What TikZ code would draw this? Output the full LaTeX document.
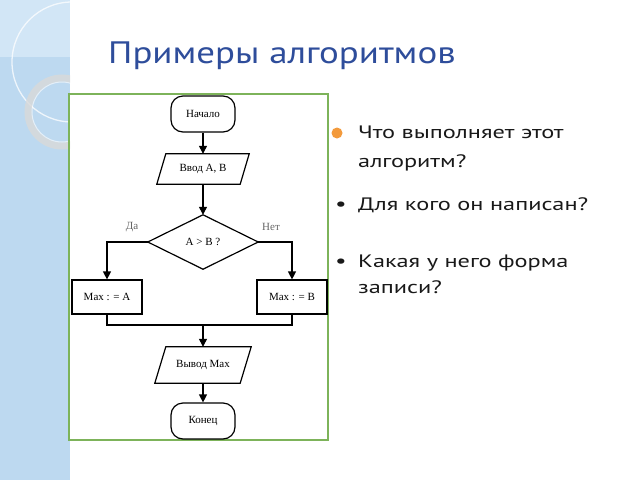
\documentclass[tikz,border=0pt]{standalone}
\usepackage{fontspec}
\setmainfont{Liberation Serif}
\newfontfamily\titlefont[FakeStretch=1.19]{PT Sans}
\newfontfamily\slidefont[FakeStretch=1.35]{PT Sans}
\usetikzlibrary{arrows.meta}
\definecolor{band}{HTML}{BDD9F0}
\definecolor{bandlight}{HTML}{D2E6F6}
\definecolor{frame}{HTML}{7DB35A}
\definecolor{titleblue}{HTML}{2E4D9B}
\definecolor{dotorange}{HTML}{F39A3C}
\tikzset{
  flow/.style={draw=black, line width=1.2pt},
  conn/.style={line width=1.2pt, -{Triangle[length=8pt,width=8pt]}},
  plain/.style={line width=1.2pt},
  term/.style={flow, rounded corners=12pt, minimum width=64pt, minimum height=36pt, inner sep=0pt, font=\fontsize{11}{13}\selectfont},
  procbox/.style={flow, minimum width=70pt, minimum height=34pt, inner sep=0pt, font=\fontsize{11}{13}\selectfont},
  ghost/.style={inner sep=0pt, font=\fontsize{11}{13}\selectfont},
  lbl/.style={inner sep=0pt, text=black!60, font=\fontsize{11}{13}\selectfont},
  bullettext/.style={anchor=base west, inner sep=0pt, text=black!90, font=\slidefont\fontsize{18}{20}\selectfont},
  bulletmark/.style={anchor=base, inner sep=0pt, text=black!90, font=\slidefont\fontsize{19}{20}\selectfont}
}
\begin{document}
\begin{tikzpicture}[x=1pt,y=-1pt]
\useasboundingbox (0,0) rectangle (640,480);
% background
\fill[white] (0,0) rectangle (640,480);
\fill[band] (0,0) rectangle (70,480);
\fill[bandlight] (0,0) rectangle (70,57);
\begin{scope}
\clip (0,0) rectangle (70,480);
\draw[white, opacity=0.75, line width=1.3pt] (72,62) circle[radius=60];
\draw[gray!30, opacity=0.8, line width=7pt] (62,112) circle[radius=34];
\draw[white, opacity=0.6, line width=1pt] (62,112) circle[radius=30];
\end{scope}
% title
\node (title) [anchor=base west, inner sep=0pt, text=titleblue, font=\titlefont\fontsize{31}{36}\selectfont] at (108,63) {Примеры алгоритмов};
% frame
\draw[frame, line width=2pt] (69,94) rectangle (328,440);
% flowchart
\node (start) [term] at (203,114) {Начало};
\node (input) [ghost, minimum width=83pt, minimum height=30pt] at (203,169) {Ввод A, B};
\draw[flow, line join=miter] ([xshift=4.5pt]input.north west) -- ([xshift=4.5pt]input.north east) -- ([xshift=-4.5pt]input.south east) -- ([xshift=-4.5pt]input.south west) -- cycle;
\node (cond) [ghost, minimum width=110pt, minimum height=54pt] at (203,242) {A > B ?};
\draw[flow, line join=miter] (cond.north) -- (cond.east) -- (cond.south) -- (cond.west) -- cycle;
\node (yes) [lbl] at (132,227) {Да};
\node (no) [lbl] at (271,227) {Нет};
\node (ma) [procbox] at (107,297) {Max : = A};
\node (mb) [procbox] at (292,297) {Max : = B};
\coordinate (join) at (203,325);
\node (output) [ghost, minimum width=85pt, minimum height=36pt] at (203,365) {Вывод Max};
\draw[flow, line join=miter] ([xshift=5.5pt]output.north west) -- ([xshift=5.5pt]output.north east) -- ([xshift=-5.5pt]output.south east) -- ([xshift=-5.5pt]output.south west) -- cycle;
\node (stop) [term] at (203,421) {Конец};
\draw[conn] (start) -- (input);
\draw[conn] (input) -- (cond);
\draw[conn] (cond.west) -| (ma.north);
\draw[conn] (cond.east) -| (mb.north);
\draw[plain] (ma.south) |- (join);
\draw[plain] (mb.south) |- (join);
\draw[conn] (join) -- (output.north);
\draw[conn] (output) -- (stop);
% bullets
\fill[dotorange] (337,133) circle[radius=5.5];
\node (q1a) [bullettext] at (358,138) {Что выполняет этот};
\node (q1b) [bullettext] at (358,167) {алгоритм?};
\node (b2) [bulletmark] at (341,210) {•};
\node (q2) [bullettext] at (358,210) {Для кого он написан?};
\node (b3) [bulletmark] at (341,267) {•};
\node (q3a) [bullettext] at (358,267) {Какая у него форма};
\node (q3b) [bullettext] at (358,293) {записи?};
\end{tikzpicture}
\end{document}
